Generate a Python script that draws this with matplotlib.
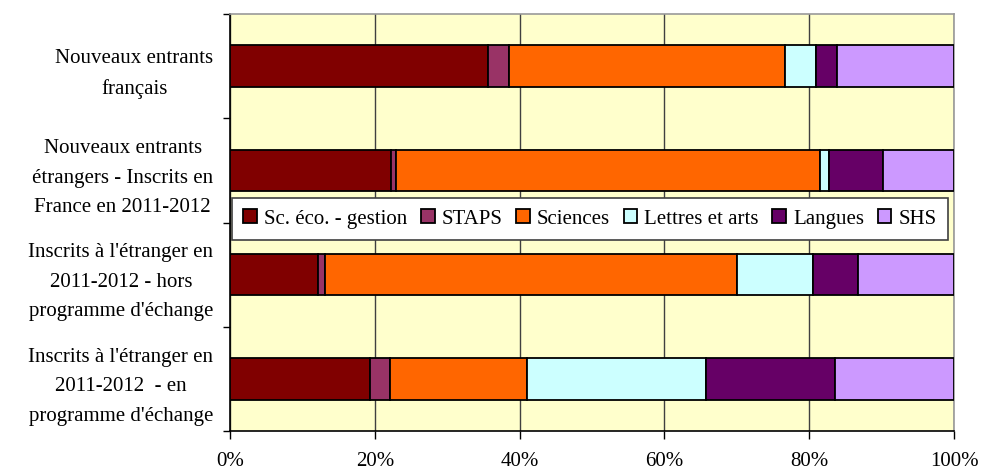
import matplotlib.pyplot as plt
import numpy as np

plt.rcParams['font.family'] = ['Liberation Serif', 'DejaVu Serif']

# groupes (du haut vers le bas)
groupes = ["Nouveaux entrants\nfrançais",
           "Nouveaux entrants\nétrangers - Inscrits en\nFrance en 2011-2012",
           "Inscrits à l'étranger en\n2011-2012 - hors\nprogramme d'échange",
           "Inscrits à l'étranger en\n2011-2012  - en\nprogramme d'échange"]

disciplines = ["Sc. éco. - gestion", "STAPS", "Sciences", "Lettres et arts", "Langues", "SHS"]
couleurs = ["#800000", "#993366", "#FF6600", "#CCFFFF", "#660066", "#CC99FF"]

# parts en % par discipline, une valeur par groupe
eco = [35.6, 22.2, 12.1, 19.3]
staps = [2.9, 0.7, 1.0, 2.8]
sciences = [38.1, 58.6, 56.9, 18.9]
lettres = [4.4, 1.2, 10.5, 24.8]
langues = [2.8, 7.5, 6.3, 17.8]
shs = [16.2, 9.8, 13.2, 16.4]
series = [eco, staps, sciences, lettres, langues, shs]

fig = plt.figure(figsize=(9.82, 4.70), dpi=100)
ax = fig.add_axes([230/982, 1 - 431/470, 724/982, 417/470])
ax.set_facecolor("#FFFFCC")

y = np.arange(len(groupes))
gauche = np.zeros(len(groupes))
for nom, vals, c in zip(disciplines, series, couleurs):
    vals = np.array(vals)
    ax.barh(y, vals, left=gauche, height=0.4, color=c, edgecolor="black",
            linewidth=1.3, label=nom, zorder=3)
    gauche += vals

ax.set_xlim(0, 100)
ax.set_ylim(len(groupes) - 0.5, -0.5)
ax.set_xticks([0, 20, 40, 60, 80, 100])
ax.set_xticklabels(["0%", "20%", "40%", "60%", "80%", "100%"], fontsize=15)
ax.tick_params(axis="x", length=6, width=1, pad=9, direction="out")
ax.set_yticks(y)
ax.set_yticklabels(groupes, fontsize=15, multialignment="center", linespacing=1.75)
ax.tick_params(axis="y", which="major", length=0, pad=12)
ax.set_yticks(np.arange(len(groupes) + 1) - 0.5, minor=True)
ax.tick_params(axis="y", which="minor", length=5, width=1)

ax.grid(axis="x", color="#404040", linewidth=1, zorder=1)
ax.spines["left"].set_color("black")
ax.spines["bottom"].set_color("black")
ax.spines["top"].set_color("#999999")
ax.spines["right"].set_color("#999999")
for s in ax.spines.values():
    s.set_linewidth(1.2)

# légende posée dans le graphique, sous la 2e barre
leg = ax.legend(ncol=6, loc="upper left", bbox_to_anchor=(2/724, 1 - 184/417, 716/724, 0),
                mode="expand", fontsize=15, frameon=True, fancybox=False, framealpha=1,
                facecolor="white", handlelength=0.65, handleheight=0.65, handletextpad=0.35,
                columnspacing=0.5, borderpad=0.55, borderaxespad=0)
leg.get_frame().set_edgecolor("#404040")
leg.get_frame().set_linewidth(1.2)
leg.set_zorder(5)

fig.savefig("out.png", dpi=100)
